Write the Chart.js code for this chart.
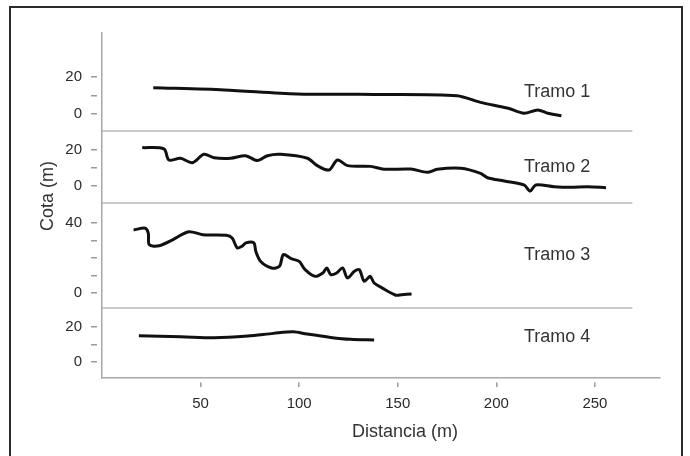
<!DOCTYPE html>
<html>
<head>
<meta charset="utf-8">
<script src="https://cdn.jsdelivr.net/npm/chart.js@4"></script>
<style>
  body { margin: 0; background: #fff; }
  #wrap { position: relative; width: 690px; height: 456px; overflow: hidden; }
  #frame { position: absolute; left: 9px; top: 6px; width: 670px; height: 500px; border: 2px solid #2b2b2b; pointer-events: none; }
  canvas { position: absolute; left: 0; top: 0; }
</style>
</head>
<body>
<div id="wrap">
  <canvas id="myChart" width="690" height="456"></canvas>
  <div id="frame"></div>
</div>
<script>
const ctx = document.querySelector('#myChart').getContext('2d');

// profile names
const tramos = ['Tramo 1', 'Tramo 2', 'Tramo 3', 'Tramo 4'];

// Tramo 1
const dist1 = [26, 62, 99, 138, 180, 192, 206, 214, 221, 226, 233];
const cota1 = [14.2, 13.0, 10.8, 10.6, 9.9, 6.3, 3.1, 0.4, 2.2, 0.4, -0.9];

// Tramo 2
const dist2 = [20.4, 31.4, 33.9, 39.8, 45.8, 51.7, 56.8, 65.2, 72.8, 78.8, 83.9, 90.6, 104.2, 109.2, 115.1, 119.4, 124.5,
    136.3, 143, 156.6, 165, 170, 182, 192, 195.5, 204, 214, 217.2, 220, 229.3, 237.8, 246.3, 255.6];
const cota2 = [21.3, 20.6, 14.4, 15.4, 12.9, 17.6, 15.7, 15.4, 16.8, 14.1, 16.8, 17.6, 15.4, 11.3, 8.9, 14.4, 11.3,
    10.9, 9.3, 9.4, 7.6, 9.3, 9.8, 7.0, 4.6, 2.8, 0.6, -2.8, 0.6, -0.4, -0.7, -0.4, -0.9];

// Tramo 3
const dist3 = [16, 22, 23.5, 24, 29, 36, 44, 51, 63, 66, 68.6, 71, 73, 77, 78, 80.5, 86, 90, 92, 96, 100, 103, 108,
    112, 114, 116, 119, 122, 124.5, 128, 130.5, 133, 136, 138, 142, 149, 152, 157];
const cota3 = [36, 37, 34, 27.5, 27, 30.5, 35, 33.3, 33, 31.4, 25.7, 26.7, 28.6, 28.6, 23.8, 18, 14.3, 15.2, 21.9, 19.6, 18, 13.3, 9.5,
    11.4, 14.3, 10.5, 11.4, 14.3, 8.6, 12.4, 13.3, 6.7, 9.5, 5.7, 2.9, -1.3, -1, -0.6];

// Tramo 4
const dist4 = [18.7, 40, 57, 74, 87, 97, 104, 116, 126, 138];
const cota4 = [15, 14.5, 13.9, 14.9, 16.4, 17.3, 16, 14.1, 13, 12.6];

// tick labels
const xTicks = [50, 100, 150, 200, 250];
const yTicksSmall = [0, 10, 20];
const yTicksBig = [0, 10, 20, 30, 40];
const yLabelsSmall = ['0', '', '20'];
const yLabelsBig = ['0', '', '', '', '40'];

const FONT = '"Liberation Sans", Arial, sans-serif';

const toPoints = (xs, ys) => xs.map((x, i) => ({ x: x, y: ys[i] }));

function yAxis(min, max, weight, order, ticks, labels) {
    return {
        type: 'linear',
        position: 'left',
        stack: 'tramos',
        stackWeight: weight,
        weight: order,
        min: min,
        max: max,
        afterBuildTicks: (s) => { s.ticks = ticks.map(v => ({ value: v })); },
        afterFit: (s) => { s.width = 102; },
        border: { color: '#a8a8a8', width: 1.5 },
        grid: {
            drawOnChartArea: false,
            drawTicks: true,
            tickLength: 11,
            tickBorderDash: [6, 40],
            color: '#9a9a9a',
            lineWidth: 1.5,
        },
        ticks: {
            autoSkip: false,
            padding: 9,
            color: '#2a2a2a',
            font: { family: FONT, size: 15 },
            callback: (value) => labels[ticks.indexOf(value)],
        },
    };
}

const line = (pts, axis) => ({
    data: pts,
    yAxisID: axis,
    borderColor: '#111',
    borderWidth: 3,
    pointRadius: 0,
    tension: 0.3,
    fill: false,
});

const decor = {
    id: 'decor',
    beforeDatasetsDraw(chart) {
        const { ctx, chartArea, scales } = chart;
        ctx.save();
        ctx.strokeStyle = '#b8b8b8';
        ctx.lineWidth = 1.5;
        const xEnd = scales.x.getPixelForValue(269);
        ['y1', 'y2', 'y3'].forEach(id => {
            const yb = scales[id].bottom;
            ctx.beginPath();
            ctx.moveTo(chartArea.left, yb);
            ctx.lineTo(xEnd, yb);
            ctx.stroke();
        });
        ctx.restore();
    },
    afterDraw(chart, args, opts) {
        const { ctx, scales } = chart;
        ctx.save();
        ctx.fillStyle = '#333';
        ctx.font = '18px ' + FONT;
        ctx.textBaseline = 'middle';
        ctx.textAlign = 'left';
        tramos.forEach((t, i) => {
            const s = scales['y' + (i + 1)];
            ctx.fillText(t, scales.x.getPixelForValue(opts.labelX), s.getPixelForValue(opts.labelY[i]));
        });
        ctx.textAlign = 'center';
        ctx.fillText('Distancia (m)', 405, 432);
        ctx.translate(48, 196);
        ctx.rotate(-Math.PI / 2);
        ctx.fillText('Cota (m)', 0, 0);
        ctx.restore();
    }
};

const config = {
    type: 'line',
    data: {
        datasets: [
            line(toPoints(dist1, cota1), 'y1'),
            line(toPoints(dist2, cota2), 'y2'),
            line(toPoints(dist3, cota3), 'y3'),
            line(toPoints(dist4, cota4), 'y4'),
        ]
    },
    options: {
        responsive: false,
        animation: false,
        layout: { padding: { top: 33, right: 30, bottom: 0, left: 0 } },
        plugins: {
            legend: { display: false },
            tooltip: { enabled: false },
            decor: { labelX: 214, labelY: [12, 10.5, 21.7, 14.3] },
        },
        scales: {
            x: {
                type: 'linear',
                min: 0,
                max: 283,
                afterBuildTicks: (s) => { s.ticks = xTicks.map(v => ({ value: v })); },
                afterFit: (s) => { s.height = 78; },
                border: { color: '#a8a8a8', width: 1.5 },
                grid: {
                    drawOnChartArea: false,
                    drawTicks: true,
                    tickLength: 9,
                    tickBorderDash: [0, 4, 5, 40],
                    color: '#9a9a9a',
                    lineWidth: 1.5,
                },
                ticks: {
                    autoSkip: false,
                    padding: 8,
                    color: '#2a2a2a',
                    font: { family: FONT, size: 15 },
                },
            },
            y1: yAxis(-9.2, 43.8, 98, 4, yTicksSmall, yLabelsSmall),
            y2: yAxis(-9.4, 30.5, 72, 3, yTicksSmall, yLabelsSmall),
            y3: yAxis(-8.6, 51.4, 105, 2, yTicksBig, yLabelsBig),
            y4: yAxis(-9.1, 30.9, 70, 1, yTicksSmall, yLabelsSmall),
        }
    },
    plugins: [decor]
};
const myChart = new Chart(ctx, config);
</script>
</body>
</html>
